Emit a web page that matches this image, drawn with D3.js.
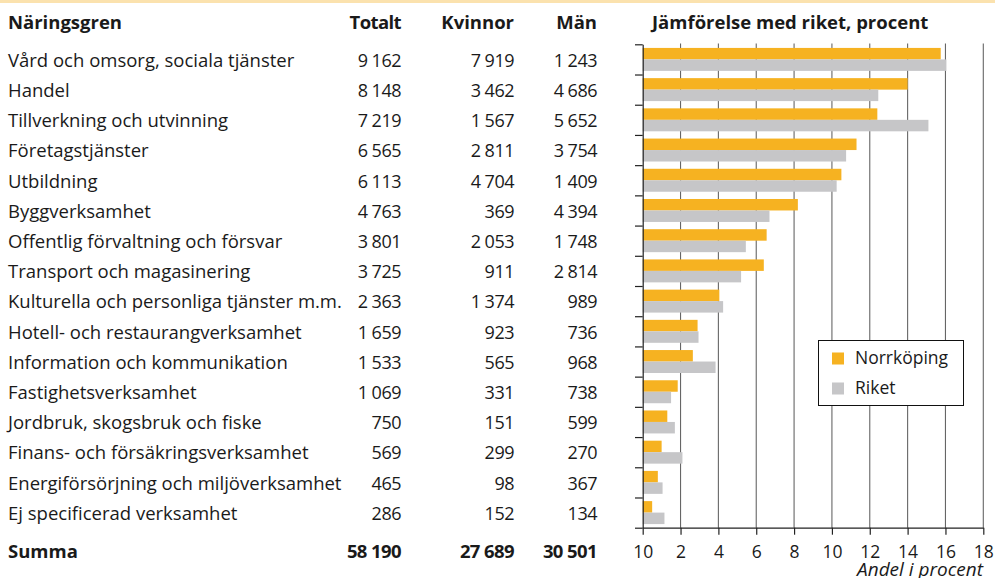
<!DOCTYPE html>
<html>
<head>
<meta charset="utf-8">
<script src="https://cdn.jsdelivr.net/npm/d3@7"></script>
<style>
  body { margin: 0; background: #fff; }
  svg { display: block; font-family: "Open Sans", sans-serif; fill: #1a1a1a; }
</style>
</head>
<body>
<div id="chart"></div>
<script>
const categories = [
  "Vård och omsorg, sociala tjänster", "Handel", "Tillverkning och utvinning",
  "Företagstjänster", "Utbildning", "Byggverksamhet",
  "Offentlig förvaltning och försvar", "Transport och magasinering",
  "Kulturella och personliga tjänster m.m.", "Hotell- och restaurangverksamhet",
  "Information och kommunikation", "Fastighetsverksamhet",
  "Jordbruk, skogsbruk och fiske", "Finans- och försäkringsverksamhet",
  "Energiförsörjning och miljöverksamhet", "Ej specificerad verksamhet"
];
const totalt  = [9162, 8148, 7219, 6565, 6113, 4763, 3801, 3725, 2363, 1659, 1533, 1069, 750, 569, 465, 286];
const kvinnor = [7919, 3462, 1567, 2811, 4704, 369, 2053, 911, 1374, 923, 565, 331, 151, 299, 98, 152];
const man     = [1243, 4686, 5652, 3754, 1409, 4394, 1748, 2814, 989, 736, 968, 738, 599, 270, 367, 134];

const series = ["Norrköping", "Riket"];
const norrkoping = [15.75, 14.0, 12.4, 11.3, 10.5, 8.2, 6.55, 6.4, 4.05, 2.9, 2.65, 1.85, 1.3, 1.0, 0.8, 0.5];
const riket      = [16.05, 12.45, 15.1, 10.75, 10.25, 6.7, 5.45, 5.2, 4.25, 2.95, 3.85, 1.5, 1.7, 2.1, 1.05, 1.15];
const xTicks = [0, 2, 4, 6, 8, 10, 12, 14, 16, 18];
const xTickLabels = ["10", "2", "4", "6", "8", "10", "12", "14", "16", "18"];

const colors = { "Norrköping": "#f6b221", "Riket": "#c6c6c8" };

const W = 995, H = 578;
const svg = d3.select("#chart").append("svg")
  .attr("width", W)
  .attr("height", H);

// thin peach band at the top
svg.append("rect")
  .attr("x", 0).attr("y", 0)
  .attr("width", W).attr("height", 3)
  .attr("fill", "#fbe2ae");

const fmt = d3.formatLocale({ decimal: ",", thousands: " ", grouping: [3], currency: ["", ""] }).format(",d");

const x = d3.scaleLinear().domain([0, 18]).range([642.7, 983.3]);
const y = d3.scaleBand().domain(categories).range([44.3, 527.7])
  .paddingInner(0.24).paddingOuter(0.12);
const ySub = d3.scaleBand().domain(series).range([0, y.bandwidth()]);
const yEdge = d3.scaleLinear().domain([0, categories.length]).range([44.3, 527.7]);

const rows = categories.map((c, i) => ({
  cat: c, totalt: totalt[i], kvinnor: kvinnor[i], man: man[i],
  values: [ { s: "Norrköping", v: norrkoping[i] }, { s: "Riket", v: riket[i] } ]
}));

// ---- table ----
const colRight = { totalt: 401, kvinnor: 514, man: 597 };
const rowBase = d => y(d) + y.bandwidth() / 2 + 7.3;

const header = svg.append("g").style("font-weight", "bold").style("font-size", "18.5px");
header.append("text").attr("x", 8).attr("y", 29).text("Näringsgren");
header.append("text").attr("x", colRight.totalt).attr("y", 29).attr("text-anchor", "end")
  .style("letter-spacing", "-0.6px").text("Totalt");
header.append("text").attr("x", colRight.kvinnor).attr("y", 29).attr("text-anchor", "end").text("Kvinnor");
header.append("text").attr("x", colRight.man).attr("y", 29).attr("text-anchor", "end").text("Män");
header.append("text").attr("x", 652).attr("y", 29).text("Jämförelse med riket, procent");

const table = svg.append("g");
const tr = table.selectAll("g.row").data(rows).join("g").attr("class", "row")
  .attr("transform", d => `translate(0,${rowBase(d.cat)})`);
tr.append("text").attr("x", 8).style("font-size", "18.5px").text(d => d.cat);
const num = (sel) => sel.attr("text-anchor", "end").style("font-size", "18px").style("letter-spacing", "-0.5px");
tr.append("text").attr("x", colRight.totalt).call(num).text(d => fmt(d.totalt));
tr.append("text").attr("x", colRight.kvinnor).call(num).text(d => fmt(d.kvinnor));
tr.append("text").attr("x", colRight.man).call(num).text(d => fmt(d.man));

const sum = svg.append("g").style("font-weight", "bold").style("font-size", "18.5px")
  .attr("transform", "translate(0,558)");
sum.append("text").attr("x", 8).text("Summa");
const bnum = (sel) => sel.attr("text-anchor", "end").style("letter-spacing", "-0.6px");
sum.append("text").attr("x", colRight.totalt).call(bnum).text(fmt(d3.sum(totalt)));
sum.append("text").attr("x", colRight.kvinnor).call(bnum).text(fmt(d3.sum(kvinnor)));
sum.append("text").attr("x", colRight.man).call(bnum).text(fmt(d3.sum(man)));

// ---- chart ----
// gridlines
svg.append("g").selectAll("line")
  .data(xTicks.filter(d => d > 0))
  .join("line")
  .attr("x1", d => x(d)).attr("x2", d => x(d))
  .attr("y1", 43.5).attr("y2", 527.7)
  .attr("stroke", "#666").attr("stroke-width", 1.1);

// bars
const groups = svg.append("g").selectAll("g")
  .data(rows)
  .join("g")
  .attr("transform", d => `translate(0,${y(d.cat)})`);

groups.selectAll("rect")
  .data(d => d.values)
  .join("rect")
  .attr("x", x(0))
  .attr("y", d => ySub(d.s))
  .attr("width", d => x(d.v) - x(0))
  .attr("height", ySub.bandwidth())
  .attr("fill", d => colors[d.s]);

// left axis with ticks at category boundaries
const yAxis = svg.append("g")
  .attr("transform", `translate(${x(0)},0)`)
  .call(d3.axisLeft(yEdge).tickValues(d3.range(0, categories.length + 1)).tickSize(7.7).tickSizeOuter(0).tickFormat(""));
yAxis.selectAll("line, path").attr("stroke", "#222").attr("stroke-width", 1.2);

// bottom axis
const xAxis = svg.append("g")
  .attr("transform", "translate(0,527.7)")
  .call(d3.axisBottom(x).tickValues(xTicks).tickSize(7).tickSizeOuter(0)
    .tickFormat((d, i) => xTickLabels[i]));
xAxis.selectAll("line, path").attr("stroke", "#222").attr("stroke-width", 1.2);
xAxis.selectAll("text")
  .attr("y", 30).attr("dy", 0)
  .style("font-family", "\"Open Sans\", sans-serif")
  .style("font-size", "17.5px")
  .attr("fill", "#1a1a1a");

svg.append("text")
  .attr("x", 983).attr("y", 575.5)
  .attr("text-anchor", "end")
  .style("font-style", "italic")
  .style("font-size", "19px")
  .text("Andel i procent");

// legend
const legend = svg.append("g").attr("transform", "translate(818.5,340.5)");
legend.append("rect")
  .attr("width", 145).attr("height", 65)
  .attr("fill", "#fff").attr("stroke", "#111").attr("stroke-width", 1);
const li = legend.selectAll("g.item").data(series).join("g").attr("class", "item")
  .attr("transform", (d, i) => `translate(13.5,${12 + i * 30})`);
li.append("rect").attr("width", 12).attr("height", 12).attr("fill", d => colors[d]);
li.append("text").attr("x", 23).attr("y", 11.5).style("font-size", "17.5px").text(d => d);
</script>
</body>
</html>
